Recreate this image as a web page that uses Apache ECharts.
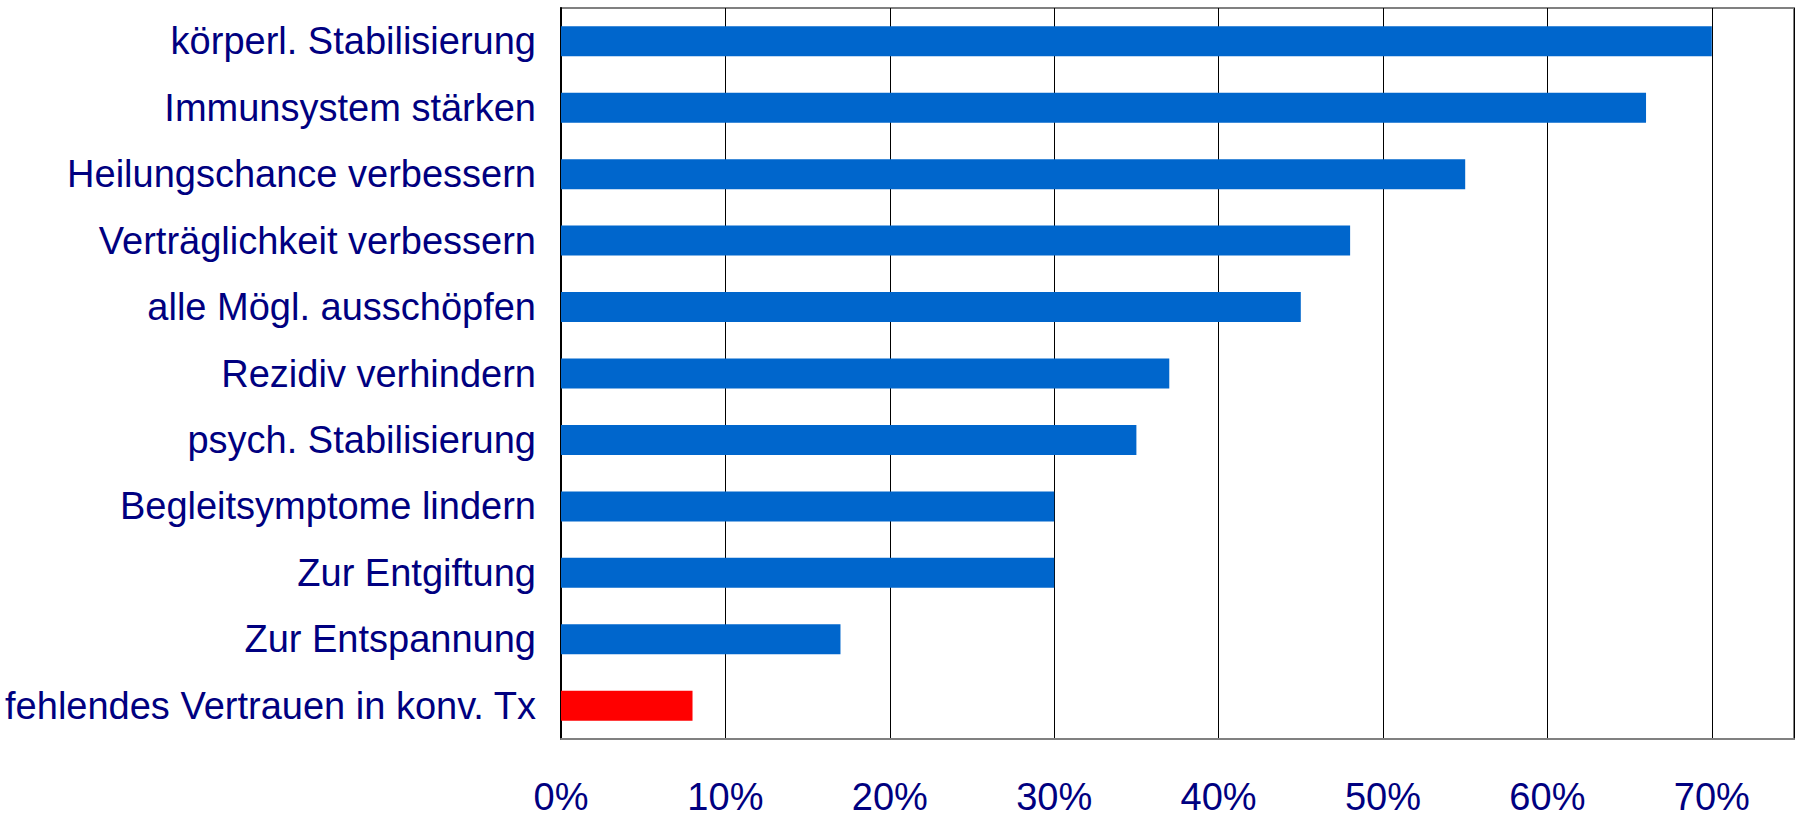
<!DOCTYPE html>
<html>
<head>
<meta charset="utf-8">
<script src="https://cdn.jsdelivr.net/npm/echarts@6/dist/echarts.min.js"></script>
<style>
  html, body { margin: 0; padding: 0; background: #fff; }
  #chart { width: 1800px; height: 817px; }
</style>
</head>
<body>
<div id="chart"></div>
<script>
// categories top to bottom, values in percent
var categories = [
  'körperl. Stabilisierung',
  'Immunsystem stärken',
  'Heilungschance verbessern',
  'Verträglichkeit verbessern',
  'alle Mögl. ausschöpfen',
  'Rezidiv verhindern',
  'psych. Stabilisierung',
  'Begleitsymptome lindern',
  'Zur Entgiftung',
  'Zur Entspannung',
  'fehlendes Vertrauen in konv. Tx'
];
var values = [70, 66, 55, 48, 45, 37, 35, 30, 30, 17, 8];
var highlight = [false, false, false, false, false, false, false, false, false, false, true];

var blue = '#0066CC';
var red = '#FF0000';
var navy = '#000080';
var font = '"Liberation Sans", Arial, sans-serif';

var chart = echarts.init(document.getElementById('chart'), null, { renderer: 'svg' });
chart.setOption({
  animation: false,
  grid: {
    left: 561, right: 6, top: 8, bottom: 78,
    outerBoundsMode: 'none',
    containLabel: false,
    show: true, borderColor: '#808080', borderWidth: 2
  },
  xAxis: {
    type: 'value',
    min: 0, max: 75, interval: 10,
    axisLine: { show: true, lineStyle: { color: '#808080', width: 2 } },
    axisTick: { show: false },
    splitLine: { show: true, lineStyle: { color: '#000', width: 1 } },
    axisLabel: {
      color: navy, fontFamily: font, fontSize: 38, margin: 39,
      showMaxLabel: false,
      formatter: function(v) { return v % 10 === 0 ? v + '%' : ''; }
    }
  },
  yAxis: {
    type: 'category',
    inverse: true,
    data: categories,
    axisLine: { show: true, lineStyle: { color: '#000', width: 2 } },
    axisTick: { show: false },
    axisLabel: { color: navy, fontFamily: font, fontSize: 38, margin: 25 }
  },
  series: [{
    type: 'bar',
    barWidth: 30,
    data: values.map(function(v, i) {
      return { value: v, itemStyle: { color: highlight[i] ? red : blue } };
    })
  }]
});
</script>
</body>
</html>
